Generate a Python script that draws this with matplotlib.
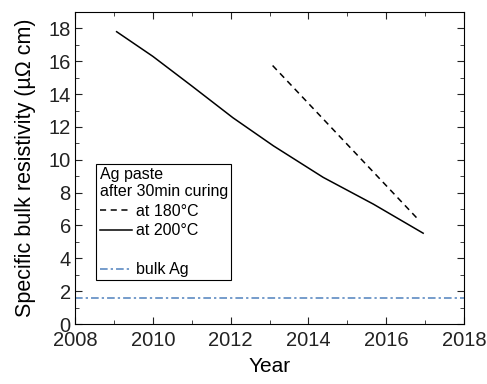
import numpy as np
import matplotlib
matplotlib.use('Agg')
import matplotlib.pyplot as plt
from matplotlib.lines import Line2D
from matplotlib.ticker import MultipleLocator

plt.rcParams['font.family'] = ['Liberation Sans', 'DejaVu Sans']

# Data
year_200 = [2009.07, 2010.0, 2011.0, 2012.06, 2013.1, 2014.38, 2015.67, 2016.95]
rho_200 = [17.8, 16.3, 14.5, 12.56, 10.85, 8.93, 7.3, 5.53]
year_180 = [2013.08, 2016.85]
rho_180 = [15.74, 6.3]
bulk_ag = 1.59

fig = plt.figure(figsize=(4.87, 3.84), dpi=100)
ax = fig.add_axes([75 / 487, 60 / 384, 389 / 487, 312 / 384])

ax.plot(year_180, rho_180, color='black', lw=1.1, ls=(0, (4, 3)))
ax.plot(year_200, rho_200, color='black', lw=1.1)
ax.axhline(bulk_ag, color='#4f81bd', lw=1.1, ls=(0, (5, 2, 1.5, 2)))

ax.set_xlim(2008, 2018)
ax.set_ylim(0, 19)
ax.xaxis.set_major_locator(MultipleLocator(2))
ax.xaxis.set_minor_locator(MultipleLocator(1))
ax.yaxis.set_major_locator(MultipleLocator(2))
ax.yaxis.set_minor_locator(MultipleLocator(1))
ax.tick_params(which='both', direction='in', top=True, right=True,
               labeltop=False, labelright=False, labelsize=14.5,
               colors='#222222')
ax.tick_params(which='major', length=5, pad=3)
ax.tick_params(which='minor', length=3)
ax.tick_params(axis='x', which='major', pad=5)
ax.set_xlabel('Year', fontsize=15, labelpad=5)
ax.set_ylabel('Specific bulk resistivity (µΩ cm)', fontsize=15.5, labelpad=9)

handles = [
    Line2D([], [], color='black', lw=1.1, ls=(0, (4, 3))),
    Line2D([], [], color='black', lw=1.1),
    Line2D([], [], color='none'),
    Line2D([], [], color='#4f81bd', lw=1.1, ls=(0, (5, 2, 1.5, 2))),
]
labels = ['at 180°C', 'at 200°C', ' ', 'bulk Ag']
leg = ax.legend(handles, labels, title='Ag paste\nafter 30min curing',
                alignment='left', loc='lower left', bbox_to_anchor=(0.055, 0.14),
                fontsize=11.5, title_fontsize=11.5, handlelength=2.0,
                handletextpad=0.3, borderpad=0.2, labelspacing=0.28,
                fancybox=False, edgecolor='black', framealpha=1,
                borderaxespad=0)
leg.get_frame().set_linewidth(0.8)

fig.savefig('out.png', dpi=100)
